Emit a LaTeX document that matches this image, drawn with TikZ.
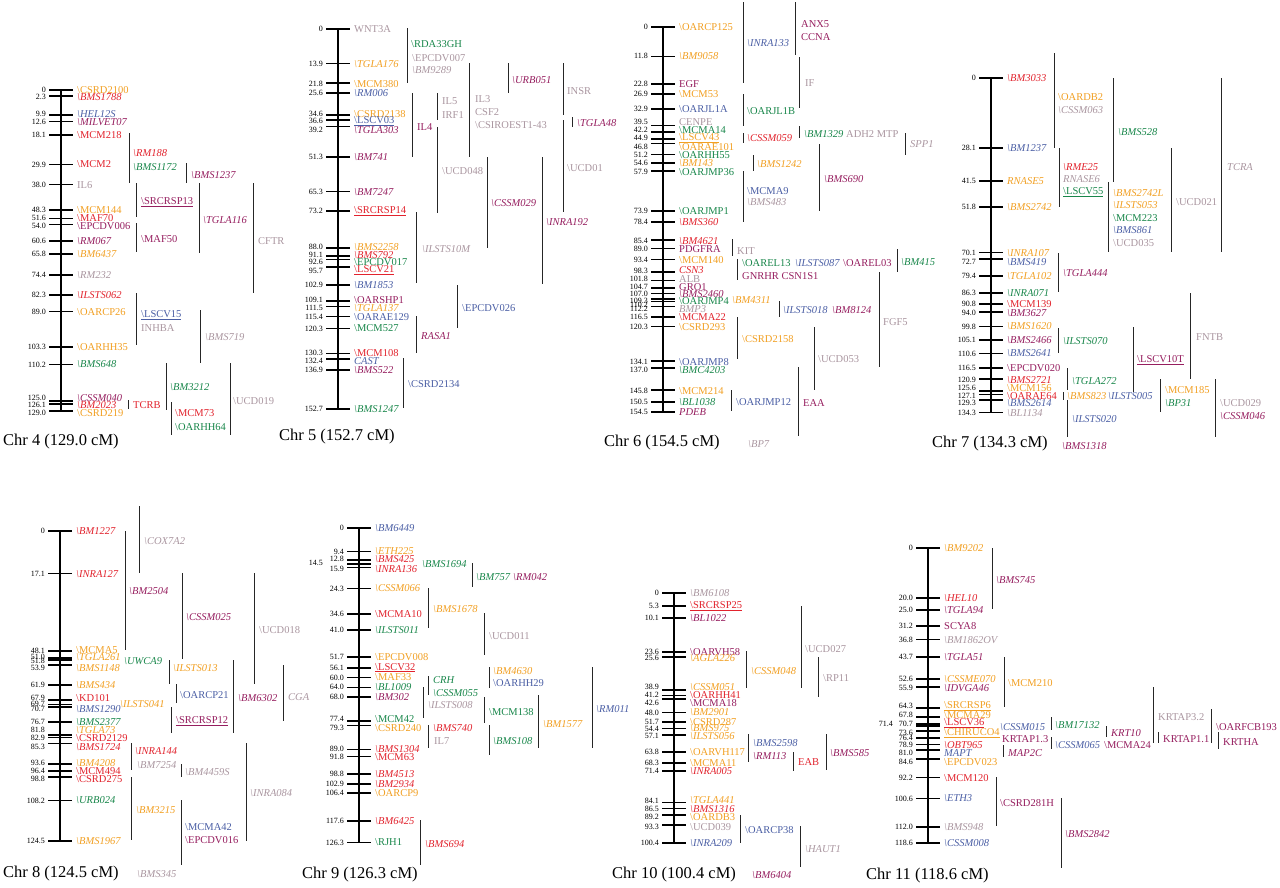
\documentclass[tikz,border=0pt]{standalone}
\usepackage{fontspec}
\setmainfont{Liberation Serif}
\usepackage{tikz}
\usepackage{xcolor}
\definecolor{mkred}{RGB}{226,35,45}
\definecolor{mkorange}{RGB}{242,160,35}
\definecolor{mkblue}{RGB}{75,95,165}
\definecolor{mkpurple}{RGB}{150,30,95}
\definecolor{mkgreen}{RGB}{25,135,75}
\definecolor{mkgrey}{RGB}{170,150,160}
\newcommand{\bs}{\textbackslash}
\newcommand{\mkfont}{\fontsize{10.5}{12}\selectfont}
% one linkage group: id, x, y of 0 cM, length, markers (cM/text pos/style/name)
\newcommand{\chrmap}[5]{%
  \begin{scope}[shift={(#2,#3)}]
    \draw[chromo] (0,0) -- (0,{2.49*#4});
    \foreach \cm/\ty/\st/\lab [count=\i] in {#5}{
      \draw[tickmk] (-12,{2.49*\cm}) -- (12,{2.49*\cm});
      \node[cmnum] (n#1x\i) at (-15,{2.49*\ty}) {\cm};
      \node[\st] (m#1x\i) at (16,{2.49*\ty}) {\lab};
    }
  \end{scope}}

\begin{document}
\begin{tikzpicture}[x=1pt,y=-1pt,
    chromo/.style={line width=2.6pt},
    tickmk/.style={line width=1.7pt},
    brk/.style={line width=0.8pt,black!85},
    cmnum/.style={anchor=east,inner sep=0pt,font=\fontsize{8}{9}\selectfont},
    mk/.style={anchor=west,inner sep=0pt,font=\mkfont},
    mki/.style={anchor=west,inner sep=0pt,font=\mkfont\itshape},
    cr/.style={mk,text=mkred},cri/.style={mki,text=mkred},
    co/.style={mk,text=mkorange},coi/.style={mki,text=mkorange},
    cb/.style={mk,text=mkblue},cbi/.style={mki,text=mkblue},
    cp/.style={mk,text=mkpurple},cpi/.style={mki,text=mkpurple},
    cg/.style={mk,text=mkgreen},cgi/.style={mki,text=mkgreen},
    cy/.style={mk,text=mkgrey},cyi/.style={mki,text=mkgrey},
    chrtitle/.style={anchor=west,inner sep=0pt,font=\fontsize{16.5}{20}\selectfont}]
  \fill[white] (0,0) rectangle (1280,887);
  \useasboundingbox (0,0) rectangle (1280,887);

  % Chr 4
  \chrmap{4}{61}{90}{129.0}{0/0/co/{\bs CSRD2100}, 2.3/2.9/cri/{\bs BMS1788},
    9.9/9.5/cbi/{\bs HEL12S}, 12.6/12.8/cpi/{\bs MILVET07}, 18.1/18.1/cr/{\bs MCM218},
    29.9/29.9/cr/{\bs MCM2}, 38.0/38.0/cy/{IL6}, 48.3/48.3/co/{\bs MCM144},
    51.6/51.3/cr/{\bs MAF70}, 54.0/54.6/cp/{\bs EPCDV006}, 60.6/60.6/cpi/{\bs RM067},
    65.8/65.8/coi/{\bs BM6437}, 74.4/74.4/cyi/{\bs RM232}, 82.3/82.3/cri/{\bs ILSTS062},
    89.0/89.0/co/{\bs OARCP26}, 103.3/103.3/co/{\bs OARHH35}, 110.2/110.2/cgi/{\bs BMS648},
    125.0/123.8/cpi/{\bs CSSM040}, 126.1/126.4/cri/{\bs BM2023}, 129.0/129.7/co/{\bs CSRD219}}
  \foreach \x/\ya/\yb in {129/133/183, 186/163/183, 136/183/217, 136/223/252, 199/183/253,
      253/183/293, 136/293/345, 200/310/363, 166/363/410, 128/400/409, 171/402/435, 230/363/435}
    \draw[brk] (\x,\ya) -- (\x,\yb);
  \foreach \x/\y/\st/\lab [count=\i] in {133/153/cri/{\bs RM188}, 133/167/cgi/{\bs BMS1172},
      191/175/cpi/{\bs BMS1237}, 141/202/cp/{\underline{\bs SRCRSP13}}, 141/239/cp/{\bs MAF50},
      203/220/cpi/{\bs TGLA116}, 258/241/cy/{CFTR}, 141/315/cb/{\underline{\bs LSCV15}},
      141/328/cy/{INHBA}, 205/337/cyi/{\bs BMS719}, 170/387/cgi/{\bs BM3212}, 133/405/cr/{TCRB},
      175/413/cr/{\bs MCM73}, 175/427/cg/{\bs OARHH64}, 233/401/cy/{\bs UCD019}}
    \node[\st] (g4x\i) at (\x,\y) {\lab};
  \node[chrtitle] (t4) at (3,442) {Chr 4 (129.0 cM)};

  % Chr 5
  \chrmap{5}{338}{29}{152.7}{0/0/cy/{WNT3A}, 13.9/13.9/coi/{\bs TGLA176},
    21.8/22.2/co/{\bs MCM380}, 25.6/25.6/cbi/{\bs RM006}, 34.6/34.0/co/{\bs CSRD2138},
    36.6/36.9/cb/{\underline{\bs LSCV03}}, 39.2/40.4/cpi/{\bs TGLA303}, 51.3/51.3/cpi/{\bs BM741},
    65.3/65.3/cpi/{\bs BM7247}, 73.2/73.2/cr/{\underline{\bs SRCRSP14}}, 88.0/87.6/coi/{\bs BMS2258},
    91.1/90.7/cri/{\bs BMS792}, 92.6/93.7/cg/{\bs EPCDV017}, 95.7/97.0/cr/{\underline{\bs LSCV21}},
    102.9/102.9/cbi/{\bs BM1853}, 109.1/108.9/cp/{\bs OARSHP1}, 111.5/112.0/coi/{\bs TGLA137},
    115.4/115.8/cb/{\bs OARAE129}, 120.3/120.3/cg/{\bs MCM527}, 130.3/130.1/cr/{\bs MCM108},
    132.4/133.3/cbi/{CAST}, 136.9/137.0/cpi/{\bs BMS522}, 152.7/152.7/cgi/{\bs BMS1247}}
  \foreach \x/\ya/\yb in {407/28/83, 412/93/157, 437/93/120, 437/127/213, 416/212/283,
      469/63/157, 508/63/93, 563/63/115, 572/117/127, 563/120/212, 487/157/248, 542/157/284,
      457/285/328, 416/316/353, 403/358/408}
    \draw[brk] (\x,\ya) -- (\x,\yb);
  \foreach \x/\y/\st/\lab [count=\i] in {411/44/cg/{\bs RDA33GH}, 412/58/cy/{\bs EPCDV007},
      412/70/cyi/{\bs BM9289}, 417/127/cp/{IL4}, 442/101/cy/{IL5}, 442/115/cy/{IRF1},
      442/171/cy/{\bs UCD048}, 422/249/cyi/{\bs ILSTS10M}, 475/99/cy/{IL3}, 475/112/cy/{CSF2},
      475/125/cy/{\bs CSIROEST1-43}, 512/80/cpi/{\bs URB051}, 567/91/cy/{INSR},
      577/123/cpi/{\bs TGLA48}, 567/168/cy/{\bs UCD01}, 491/203/cpi/{\bs CSSM029},
      546/222/cpi/{\bs INRA192}, 462/308/cb/{\bs EPCDV026}, 421/336/cpi/{RASA1},
      408/384/cb/{\bs CSRD2134}}
    \node[\st] (g5x\i) at (\x,\y) {\lab};
  \node[chrtitle] (t5) at (279,437) {Chr 5 (152.7 cM)};

  % Chr 6
  \chrmap{6}{663}{27}{154.5}{0/0/co/{\bs OARCP125}, 11.8/11.8/coi/{\bs BM9058},
    22.8/22.8/cp/{EGF}, 26.9/26.9/co/{\bs MCM53}, 32.9/32.9/cb/{\bs OARJL1A},
    39.5/38.0/cy/{CENPE}, 42.2/41.3/cg/{\bs MCMA14}, 44.9/44.5/co/{\underline{\bs LSCV43}},
    46.8/48.1/co/{\bs OARAE101}, 51.2/51.5/cg/{\bs OARHH55}, 54.6/54.7/coi/{\bs BM143},
    57.9/58.1/cg/{\bs OARJMP36}, 73.9/73.9/cg/{\bs OARJMP1}, 78.4/78.4/cri/{\bs BMS360},
    85.4/85.8/cri/{\bs BM4621}, 89.0/89.2/cp/{PDGFRA}, 93.4/93.6/co/{\bs MCM140},
    98.3/97.8/cri/{CSN3}, 101.8/101.1/cy/{ALB}, 104.7/104.3/cp/{GRO1},
    107.0/107.3/cpi/{\bs BMS2460}, 109.3/110.1/cg/{\bs OARJMP4}, 110.2/111.5/cg/{},
    112.2/113.4/cyi/{BMP3}, 116.5/116.6/cr/{\bs MCMA22}, 120.3/120.5/co/{\bs CSRD293},
    134.1/134.4/cb/{\bs OARJMP8}, 137.0/137.8/cgi/{\bs BMC4203}, 145.8/146.1/co/{\bs MCM214},
    150.5/150.6/cgi/{\bs BL1038}, 154.5/154.6/cpi/{PDEB}}
  \foreach \x/\ya/\yb in {743/2/83, 795/2/55, 799/57/108, 743/94/126, 743/133/143,
      799/126/138, 905/133/155, 753/155/171, 819/144/211, 743/171/222, 732/239/256,
      737/259/280, 897/249/272, 879/272/367, 779/301/317, 737/317/359, 814/327/390,
      731/390/411, 798/367/436}
    \draw[brk] (\x,\ya) -- (\x,\yb);
  \foreach \x/\y/\st/\lab [count=\i] in {747/43/cbi/{\bs INRA133}, 801/24/cp/{ANX5},
      801/37/cp/{CCNA}, 805/83/cy/{IF}, 747/111/cg/{\bs OARJL1B}, 747/138/cri/{\bs CSSM059},
      804/134/cgi/{\bs BM1329}, 846/134/cy/{ADH2 MTP}, 910/144/cyi/{SPP1},
      757/164/coi/{\bs BMS1242}, 824/179/cpi/{\bs BMS690}, 747/191/cb/{\bs MCMA9},
      747/202/cyi/{\bs BMS483}, 732/300/coi/{\bs BM4311}, 737/251/cy/{KIT},
      742/263/cg/{\bs OAREL13}, 795/263/cbi/{\bs ILSTS087}, 843/263/cp/{\bs OAREL03},
      742/276/cp/{GNRHR CSN1S1}, 901/262/cgi/{\bs BM415}, 883/322/cy/{FGF5},
      783/310/cbi/{\bs ILSTS018}, 832/310/cpi/{\bs BM8124}, 742/339/co/{\bs CSRD2158},
      818/359/cy/{\bs UCD053}, 736/402/cb/{\bs OARJMP12}, 803/403/cp/{EAA}, 748/444/cyi/{\bs BP7}}
    \node[\st] (g6x\i) at (\x,\y) {\lab};
  \node[chrtitle] (t6) at (604,443) {Chr 6 (154.5 cM)};

  % Chr 7
  \chrmap{7}{991}{78}{134.3}{0/0/cri/{\bs BM3033}, 28.1/28.1/cbi/{\bs BM1237},
    41.5/41.5/coi/{RNASE5}, 51.8/51.8/coi/{\bs BMS2742}, 70.1/70.2/coi/{\bs INRA107},
    72.7/73.8/cbi/{\bs BMS419}, 79.4/79.4/coi/{\bs TGLA102}, 86.3/86.3/cgi/{\bs INRA071},
    90.8/90.7/cr/{\bs MCM139}, 94.0/94.4/cpi/{\bs BM3627}, 99.8/99.8/coi/{\bs BMS1620},
    105.1/105.1/cpi/{\bs BMS2466}, 110.6/110.6/cbi/{\bs BMS2641}, 116.5/116.5/cp/{\bs EPCDV020},
    120.9/121.3/cri/{\bs BMS2721}, 125.6/124.6/co/{\bs MCM156}, 127.1/127.6/cr/{\bs OARAE64},
    129.3/130.6/cbi/{\bs BMS2614}, 134.3/134.5/cyi/{\bs BL1134}}
  \foreach \x/\ya/\yb in {1054/53/148, 1113/78/182, 1059/148/207, 1108/182/252,
      1171/148/252, 1221/78/252, 1058/253/292, 1058/328/353, 1190/293/379, 1133/327/392,
      1067/368/390, 1063/392/400, 1067/400/437, 1160/379/412, 1215/379/437}
    \draw[brk] (\x,\ya) -- (\x,\yb);
  \foreach \x/\y/\st/\lab [count=\i] in {1058/97/co/{\bs OARDB2}, 1058/110/cyi/{\bs CSSM063},
      1118/132/cgi/{\bs BMS528}, 1063/167/cri/{\bs RME25}, 1063/179/cyi/{RNASE6},
      1063/192/cg/{\underline{\bs LSCV55}}, 1113/193/coi/{\bs BMS2742L}, 1113/205/coi/{\bs ILSTS053},
      1113/218/cg/{\bs MCM223}, 1113/230/cbi/{\bs BMS861}, 1113/243/cy/{\bs UCD035},
      1176/202/cy/{\bs UCD021}, 1227/167/cyi/{TCRA}, 1063/273/cpi/{\bs TGLA444},
      1063/341/cgi/{\bs ILSTS070}, 1196/337/cy/{FNTB}, 1137/360/cp/{\underline{\bs LSCV10T}},
      1072/381/cgi/{\bs TGLA272}, 1067/396/coi/{\bs BMS823}, 1108/396/cbi/{\bs ILSTS005},
      1072/419/cbi/{\bs ILSTS020}, 1165/390/co/{\bs MCM185}, 1165/403/cgi/{\bs BP31},
      1220/403/cy/{\bs UCD029}, 1220/416/cpi/{\bs CSSM046}, 1062/446/cpi/{\bs BMS1318}}
    \node[\st] (g7x\i) at (\x,\y) {\lab};
  \node[chrtitle] (t7) at (932,444) {Chr 7 (134.3 cM)};

  % Chr 8
  \chrmap{8}{60}{531}{124.5}{0/0/cri/{\bs BM1227}, 17.1/17.1/cri/{\bs INRA127},
    48.1/48.0/co/{\bs MCMA5}, 51.0/50.5/coi/{\bs TGLA261}, 51.8/52.3/co/{},
    53.9/55.0/coi/{\bs BMS1148}, 61.9/61.9/coi/{\bs BMS434}, 67.9/66.9/cr/{\bs KD101},
    69.7/69.4/co/{}, 70.7/71.6/cbi/{\bs BMS1290}, 76.7/76.7/cgi/{\bs BMS2377},
    81.8/80.0/coi/{\bs TGLA73}, 82.9/83.2/cr/{\bs CSRD2129}, 85.3/86.6/cri/{\bs BMS1724},
    93.6/93.0/coi/{\bs BM4208}, 96.4/96.3/cr/{\bs MCM494}, 98.8/99.7/cr/{\bs CSRD275},
    108.2/108.2/cgi/{\bs URB024}, 124.5/124.5/coi/{\bs BMS1967}}
  \foreach \x/\ya/\yb in {139/506/573, 125/531/650, 182/573/659, 254/573/684, 169/660/684,
      176/684/703, 171/707/733, 233/660/733, 283/665/721, 131/743/770, 181/764/777,
      246/743/841, 131/777/840, 181/800/865}
    \draw[brk] (\x,\ya) -- (\x,\yb);
  \foreach \x/\y/\st/\lab [count=\i] in {144/541/cyi/{\bs COX7A2}, 129/591/cpi/{\bs BM2504},
      186/617/cpi/{\bs CSSM025}, 259/630/cy/{\bs UCD018}, 173/668/coi/{\bs ILSTS013},
      180/695/cb/{\bs OARCP21}, 176/721/cp/{\underline{\bs SRCRSP12}}, 238/698/cpi/{\bs BM6302},
      288/697/cyi/{CGA}, 135/751/cri/{\bs INRA144}, 137/765/cyi/{\bs BM7254},
      185/772/cyi/{\bs BM4459S}, 250/793/cyi/{\bs INRA084}, 136/810/coi/{\bs BM3215},
      185/827/cb/{\bs MCMA42}, 185/840/cp/{\bs EPCDV016}, 137/874/cyi/{\bs BMS345},
      124/661/cgi/{\bs UWCA9}, 120/704/coi/{\bs ILSTS041}}
    \node[\st] (g8x\i) at (\x,\y) {\lab};
  \node[chrtitle] (t8) at (3,874) {Chr 8 (124.5 cM)};

  % Chr 9
  \chrmap{9}{359}{528}{126.3}{0/0/cbi/{\bs BM6449}, 9.4/9.4/coi/{\bs ETH225},
    12.8/12.4/cri/{\bs BMS425}, 15.9/16.6/cri/{\bs INRA136}, 24.3/24.3/coi/{\bs CSSM066},
    34.6/34.6/cr/{\bs MCMA10}, 41.0/41.0/cgi/{\bs ILSTS011}, 51.7/51.7/co/{\bs EPCDV008},
    56.1/56.1/cr/{\underline{\bs LSCV32}}, 60.0/60.0/co/{\bs MAF33}, 64.0/64.0/cgi/{\bs BL1009},
    68.0/68.0/cpi/{\bs BM302}, 77.4/76.6/cg/{\bs MCM42}, 79.3/80.3/co/{\bs CSRD240},
    89.0/88.7/cri/{\bs BMS1304}, 91.8/91.9/cr/{\bs MCM63}, 98.8/98.8/cri/{\bs BM4513},
    102.9/102.9/cri/{\bs BM2934}, 106.4/106.4/co/{\bs OARCP9}, 117.6/117.6/cri/{\bs BM6425},
    126.3/126.3/cg/{\bs RJH1}}
  \draw[tickmk] (347,564) -- (371,564);
  \node[cmnum] (n9x0) at (323,563) {14.5};
  \foreach \x/\ya/\yb in {472/563/587, 428/588/628, 484/613/655, 489/667/688, 428/676/695,
      423/687/718, 428/725/748, 484/697/723, 489/725/755, 538/695/748, 592/667/748, 420/820/865}
    \draw[brk] (\x,\ya) -- (\x,\yb);
  \foreach \x/\y/\st/\lab [count=\i] in {422/564/cgi/{\bs BMS1694}, 476/577/cgi/{\bs BM757},
      513/577/cpi/{\bs RM042}, 433/609/coi/{\bs BMS1678}, 489/636/cy/{\bs UCD011},
      493/671/coi/{\bs BM4630}, 493/683/cb/{\bs OARHH29}, 433/680/cgi/{CRH},
      433/693/cgi/{\bs CSSM055}, 428/705/cyi/{\bs ILSTS008}, 433/728/cri/{\bs BMS740},
      434/741/cy/{IL7}, 489/712/cg/{\bs MCM138}, 493/741/cgi/{\bs BMS108},
      543/724/coi/{\bs BM1577}, 596/709/cbi/{\bs RM011}, 425/844/cri/{\bs BMS694}}
    \node[\st] (g9x\i) at (\x,\y) {\lab};
  \node[chrtitle] (t9) at (302,875) {Chr 9 (126.3 cM)};

  % Chr 10
  \chrmap{10}{674}{593}{100.4}{0/0/cyi/{\bs BM6108}, 5.3/5.3/cr/{\underline{\bs SRCRSP25}},
    10.1/10.1/cpi/{\bs BL1022}, 23.6/23.6/cp/{\bs OARVH58}, 25.6/26.1/coi/{\bs AGLA226},
    38.9/37.6/coi/{\bs CSSM051}, 41.2/41.0/cr/{\bs OARHH41}, 42.6/44.1/cp/{\bs MCMA18},
    48.0/48.0/coi/{\bs BM2901}, 51.7/51.7/co/{\bs CSRD287}, 54.4/54.4/coi/{\bs BMS975},
    57.1/57.4/coi/{\bs ILSTS056}, 63.8/63.8/co/{\bs OARVH117}, 68.3/68.3/co/{\bs MCMA11},
    71.4/71.4/cri/{\bs INRA005}, 84.1/83.3/coi/{\bs TGLA441}, 86.5/86.7/cri/{\bs BMS1316},
    89.2/89.9/co/{\bs OARDB3}, 93.3/93.9/cy/{\bs UCD039}, 100.4/100.4/cbi/{\bs INRA209}}
  \foreach \x/\ya/\yb in {801/606/688, 818/657/697, 746/651/688, 748/734/762, 793/752/771,
      826/734/770, 740/815/843, 800/826/867}
    \draw[brk] (\x,\ya) -- (\x,\yb);
  \foreach \x/\y/\st/\lab [count=\i] in {805/649/cy/{\bs UCD027}, 823/678/cy/{\bs RP11},
      751/671/coi/{\bs CSSM048}, 753/743/cbi/{\bs BMS2598}, 753/756/cpi/{\bs RM113},
      798/762/cr/{EAB}, 830/753/cpi/{\bs BMS585}, 745/830/cb/{\bs OARCP38},
      805/849/cyi/{\bs HAUT1}, 752/875/cpi/{\bs BM6404}}
    \node[\st] (g10x\i) at (\x,\y) {\lab};
  \node[chrtitle] (t10) at (612,875) {Chr 10 (100.4 cM)};

  % Chr 11
  \chrmap{11}{928}{548}{118.6}{0/0/coi/{\bs BM9202}, 20.0/20.0/cri/{\bs HEL10},
    25.0/25.0/cpi/{\bs TGLA94}, 31.2/31.2/cp/{SCYA8}, 36.8/36.8/cyi/{\bs BM1862OV},
    43.7/43.7/cpi/{\bs TGLA51}, 52.6/52.6/coi/{\bs CSSME070}, 55.9/56.1/cpi/{\bs IDVGA46},
    64.3/63.4/co/{\underline{\bs SRCRSP6}}, 67.8/67.1/co/{\bs MCMA29},
    70.7/70.5/cr/{\underline{\bs LSCV36}}, 73.6/74.3/co/{\underline{\bs CHIRUCO4}},
    76.4/76.4/cp/{}, 78.9/79.1/cri/{\bs OBT965}, 81.0/82.2/cbi/{MAPT},
    84.6/85.9/co/{\bs EPCDV023}, 92.2/92.2/cr/{\bs MCM120}, 100.6/100.6/cbi/{\bs ETH3},
    112.0/112.0/cyi/{\bs BMS948}, 118.6/118.6/cbi/{\bs CSSM008}}
  \draw[tickmk] (916,726) -- (940,726);
  \node[cmnum] (n11x0) at (893,724) {71.4};
  \foreach \x/\ya/\yb in {992/548/609, 1004/657/707, 1051/717/730, 1051/737/749,
      1003/745/757, 1106/726/737, 1153/687/743, 1158/732/743, 1211/709/743, 1218/732/749,
      996/777/826, 1061/798/868}
    \draw[brk] (\x,\ya) -- (\x,\yb);
  \foreach \x/\y/\st/\lab [count=\i] in {996/580/cpi/{\bs BMS745}, 1008/683/co/{\bs MCM210},
      1000/727/cbi/{\bs CSSM015}, 1055/725/cgi/{\bs BM17132}, 1002/739/cp/{KRTAP1.3},
      1055/745/cbi/{\bs CSSM065}, 1104/745/cp/{\bs MCMA24}, 1008/753/cpi/{MAP2C},
      1111/733/cpi/{KRT10}, 1158/717/cy/{KRTAP3.2}, 1163/739/cp/{KRTAP1.1},
      1216/727/cp/{\bs OARFCB193}, 1223/742/cp/{KRTHA}, 1000/803/cp/{\bs CSRD281H},
      1065/834/cpi/{\bs BMS2842}}
    \node[\st] (g11x\i) at (\x,\y) {\lab};
  \node[chrtitle] (t11) at (866,876) {Chr 11 (118.6 cM)};
\end{tikzpicture}
\end{document}
